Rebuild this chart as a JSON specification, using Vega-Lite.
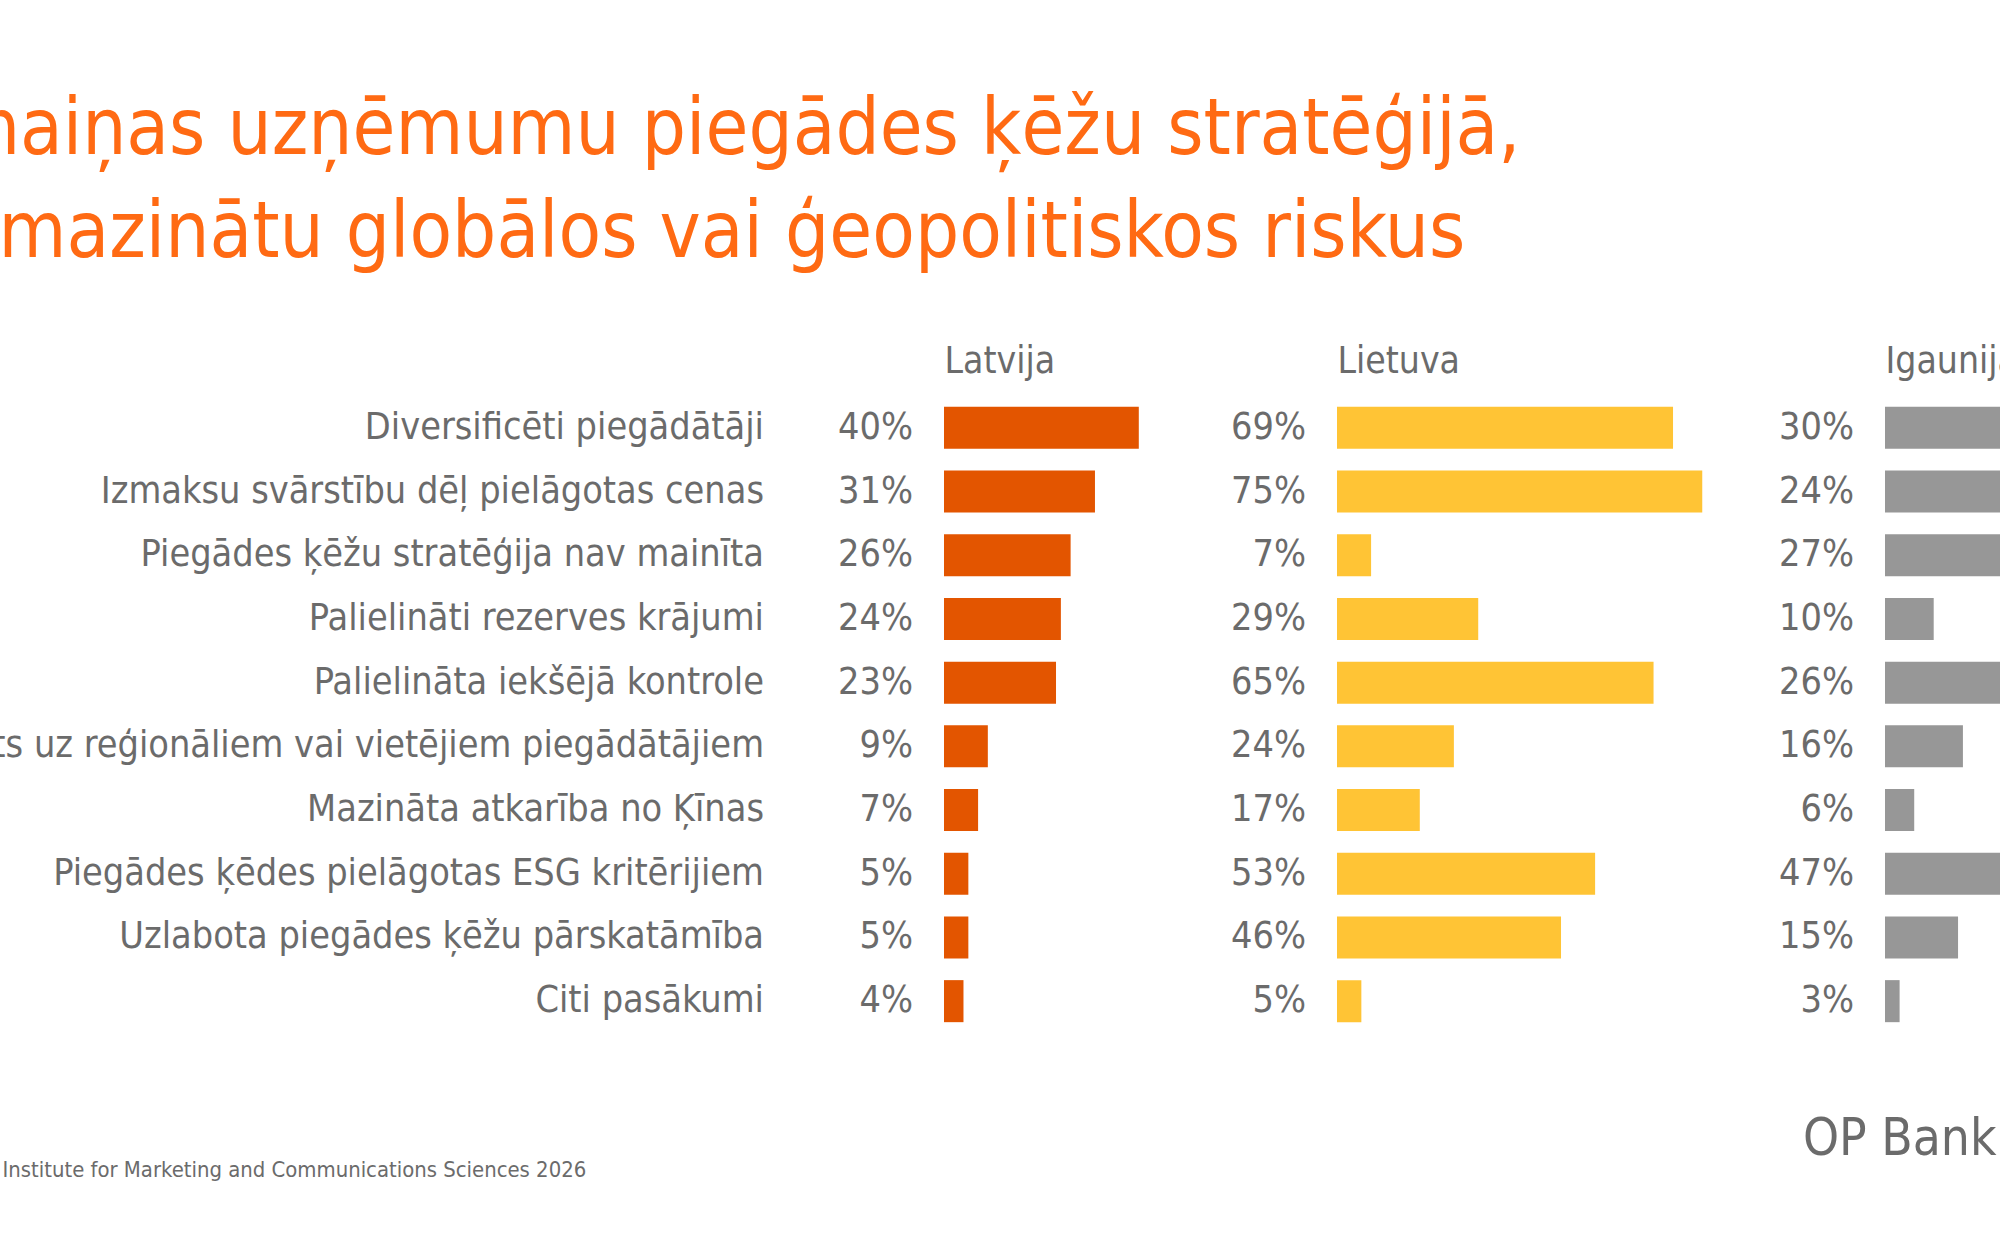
{
  "$schema": "https://vega.github.io/schema/vega-lite/v6.json",
  "autosize": {"type": "none"},
  "width": 2000,
  "height": 637,
  "padding": {"left": 0, "top": 396, "right": 0, "bottom": 222},
  "background": "white",
  "config": {
    "font": "DejaVu Sans Condensed",
    "view": {"stroke": null},
    "axis": {"grid": false}
  },
  "title": {
    "text": ["Izmaiņas uzņēmumu piegādes ķēžu stratēģijā,", "lai mazinātu globālos vai ģeopolitiskos riskus"],
    "anchor": "start",
    "frame": "group",
    "dx": -105,
    "offset": 69,
    "font": "DejaVu Sans Condensed",
    "fontSize": 77.5,
    "fontWeight": "normal",
    "color": "#FF6A13",
    "lineHeight": 103
  },
  "data": {
    "values": [
      {"pasakums": "Diversificēti piegādātāji", "Latvija": 0.40, "Lietuva": 0.69, "Igaunija": 0.30},
      {"pasakums": "Izmaksu svārstību dēļ pielāgotas cenas", "Latvija": 0.31, "Lietuva": 0.75, "Igaunija": 0.24},
      {"pasakums": "Piegādes ķēžu stratēģija nav mainīta", "Latvija": 0.26, "Lietuva": 0.07, "Igaunija": 0.27},
      {"pasakums": "Palielināti rezerves krājumi", "Latvija": 0.24, "Lietuva": 0.29, "Igaunija": 0.10},
      {"pasakums": "Palielināta iekšējā kontrole", "Latvija": 0.23, "Lietuva": 0.65, "Igaunija": 0.26},
      {"pasakums": "Pārorientēts uz reģionāliem vai vietējiem piegādātājiem", "Latvija": 0.09, "Lietuva": 0.24, "Igaunija": 0.16},
      {"pasakums": "Mazināta atkarība no Ķīnas", "Latvija": 0.07, "Lietuva": 0.17, "Igaunija": 0.06},
      {"pasakums": "Piegādes ķēdes pielāgotas ESG kritērijiem", "Latvija": 0.05, "Lietuva": 0.53, "Igaunija": 0.47},
      {"pasakums": "Uzlabota piegādes ķēžu pārskatāmība", "Latvija": 0.05, "Lietuva": 0.46, "Igaunija": 0.15},
      {"pasakums": "Citi pasākumi", "Latvija": 0.04, "Lietuva": 0.05, "Igaunija": 0.03}
    ]
  },
  "layer": [
    {
      "layer": [
        {
          "mark": {"type": "bar", "color": "#E35500"},
          "encoding": {
            "x": {
              "field": "Latvija", "type": "quantitative",
              "scale": {"domain": [0, 1], "range": [944, 1431]},
              "axis": {
                "orient": "top", "title": "Latvija", "labels": false,
                "ticks": true, "tickSize": 0, "tickOpacity": 0, "domain": true, "domainOpacity": 0,
                "titleAnchor": "start", "titleAlign": "left", "titleY": -24, "titleBaseline": "alphabetic",
                "titleFont": "DejaVu Sans Condensed", "titleFontSize": 37, "titleFontWeight": "normal", "titleColor": "#6B6B6B"
              }
            },
            "y": {
              "field": "pasakums", "type": "nominal", "sort": null,
              "scale": {"paddingInner": 0.34, "paddingOuter": 0.17},
              "axis": {
                "orient": "left", "labels": false,
                "ticks": true, "tickSize": 0, "tickOpacity": 0, "domain": true, "domainOpacity": 0,
                "title": "Institute for Marketing and Communications Sciences 2026",
                "titleAngle": 0, "titleX": 2, "titleY": 780, "titleAlign": "left", "titleBaseline": "alphabetic",
                "titleFont": "DejaVu Sans Condensed", "titleFontSize": 21.9, "titleFontWeight": "normal", "titleColor": "#6B6B6B"
              }
            }
          }
        },
        {
          "mark": {"type": "text", "align": "right", "baseline": "middle", "dx": -31, "fontSize": 37.5, "color": "#6B6B6B"},
          "encoding": {
            "x": {"datum": 0},
            "y": {"field": "pasakums", "type": "nominal", "sort": null},
            "text": {"field": "Latvija", "type": "quantitative", "format": ".0%"}
          }
        },
        {
          "mark": {"type": "text", "align": "right", "baseline": "middle", "dx": -180, "fontSize": 37.5, "color": "#6B6B6B"},
          "encoding": {
            "x": {"datum": 0},
            "y": {"field": "pasakums", "type": "nominal", "sort": null},
            "text": {"field": "pasakums", "type": "nominal"}
          }
        }
      ]
    },
    {
      "layer": [
        {
          "mark": {"type": "bar", "color": "#FFC435"},
          "encoding": {
            "x": {
              "field": "Lietuva", "type": "quantitative",
              "scale": {"domain": [0, 1], "range": [1337, 1824]},
              "axis": {
                "orient": "top", "title": "Lietuva", "labels": false,
                "ticks": true, "tickSize": 0, "tickOpacity": 0, "domain": true, "domainOpacity": 0,
                "titleAnchor": "start", "titleAlign": "left", "titleY": -24, "titleBaseline": "alphabetic",
                "titleFont": "DejaVu Sans Condensed", "titleFontSize": 37, "titleFontWeight": "normal", "titleColor": "#6B6B6B"
              }
            },
            "y": {
              "field": "pasakums", "type": "nominal", "sort": null,
              "scale": {"paddingInner": 0.34, "paddingOuter": 0.17},
              "axis": {
                "orient": "right", "labels": false,
                "ticks": true, "tickSize": 0, "tickOpacity": 0, "domain": true, "domainOpacity": 0,
                "title": "OP Bank",
                "titleAngle": 0, "titleX": -4, "titleY": 758, "titleAlign": "right", "titleBaseline": "alphabetic",
                "titleFont": "DejaVu Sans Condensed", "titleFontSize": 51, "titleFontWeight": "normal", "titleColor": "#6B6B6B"
              }
            }
          }
        },
        {
          "mark": {"type": "text", "align": "right", "baseline": "middle", "dx": -31, "fontSize": 37.5, "color": "#6B6B6B"},
          "encoding": {
            "x": {"datum": 0},
            "y": {"field": "pasakums", "type": "nominal", "sort": null},
            "text": {"field": "Lietuva", "type": "quantitative", "format": ".0%"}
          }
        }
      ]
    },
    {
      "layer": [
        {
          "mark": {"type": "bar", "color": "#979797"},
          "encoding": {
            "x": {
              "field": "Igaunija", "type": "quantitative",
              "scale": {"domain": [0, 1], "range": [1885, 2372]},
              "axis": {
                "orient": "top", "title": "Igaunija", "labels": false,
                "ticks": true, "tickSize": 0, "tickOpacity": 0, "domain": true, "domainOpacity": 0,
                "titleAnchor": "start", "titleAlign": "left", "titleY": -24, "titleBaseline": "alphabetic",
                "titleFont": "DejaVu Sans Condensed", "titleFontSize": 37, "titleFontWeight": "normal", "titleColor": "#6B6B6B"
              }
            },
            "y": {
              "field": "pasakums", "type": "nominal", "sort": null,
              "scale": {"paddingInner": 0.34, "paddingOuter": 0.17},
              "axis": null
            }
          }
        },
        {
          "mark": {"type": "text", "align": "right", "baseline": "middle", "dx": -31, "fontSize": 37.5, "color": "#6B6B6B"},
          "encoding": {
            "x": {"datum": 0},
            "y": {"field": "pasakums", "type": "nominal", "sort": null, "axis": null},
            "text": {"field": "Igaunija", "type": "quantitative", "format": ".0%"}
          }
        }
      ]
    }
  ],
  "resolve": {
    "scale": {"x": "independent"},
    "axis": {"x": "independent", "y": "independent"}
  }
}
